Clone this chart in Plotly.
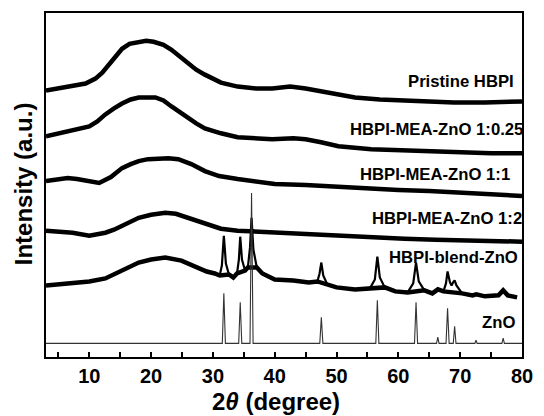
import plotly.graph_objects as go

# ---------------- data ----------------
pristine_x = [3, 5, 7, 9.4, 11, 12.1, 13.7, 15.3, 16.5, 18, 19.2, 20.4, 22, 23.3, 24.7, 26, 27.3, 28.7,
              31.3, 34, 37, 39.6, 42.5, 45, 47.6, 50, 53, 57, 61, 65, 69, 74, 80]
pristine_y = [268, 270, 272, 275, 280, 286, 298, 310, 315, 317, 318, 317, 314, 309, 302, 295, 289, 284,
              276, 272, 270, 270, 272, 270, 267, 264, 261, 259, 258, 257, 256, 256, 257]

r025_x = [3, 5, 7.3, 10, 11.3, 12.6, 14, 15.3, 16.7, 18, 20.7, 22, 23.3, 24.7, 26, 27.3, 28.7, 31.3,
          34, 37, 39.6, 43, 45, 47.5, 50.3, 55.6, 60, 64, 70, 75, 80]
r025_y = [222, 225, 229, 232, 237, 244, 250, 255, 259, 261, 261, 258, 252, 246, 240, 235, 230, 225,
          221, 220, 219, 220, 219, 216, 212, 209, 208, 207, 206, 205, 205]

r11_x = [3, 4.5, 6.5, 8, 9.5, 11.6, 13.5, 15.3, 16.7, 18, 19.5, 21.2, 22.8, 24.4, 26.5, 28.7, 31, 34,
         37, 40, 45, 50, 55, 60, 65, 70, 75, 80]
r11_y = [177, 178, 180, 179, 177, 175, 181, 190, 194, 197, 199, 200, 200, 199, 194, 187, 182, 179,
         176, 174, 173, 171, 170, 168, 167, 165, 164, 162]

r12_x = [3, 5, 7.3, 10, 12.6, 14, 15.3, 16.7, 18, 20, 22.3, 24, 26, 27.4, 28.7, 31.3, 34, 37, 40.4,
         45, 50.3, 55, 61, 66, 72, 78, 80]
r12_y = [127, 126, 125, 122, 125, 128, 132, 136, 140, 143, 145, 144, 140, 137, 134, 129, 127, 126, 125,
         124, 122, 121, 119, 118, 117, 116, 116]

# HBPI-blend-ZnO: broad amorphous background and the crystalline peaks on top of it
blend_base_x = [3, 5, 7.3, 10, 12.6, 14, 15.3, 16.7, 18, 20, 22.3, 24.9, 26.3, 27.6, 29, 30.3, 31.1,
                32.6, 33.3, 33.9, 35.2, 35.65, 37.1, 38, 40, 43, 45.5, 46.9, 48.5, 50, 53, 55.4,
                57.8, 59.5, 61.5, 64.2, 65.5, 66.4, 67.3, 70.3, 72, 72.6, 74, 76.2, 76.95, 77.7, 79.2]
blend_base_y = [72, 73, 74, 76, 79, 83, 87, 91, 95, 98, 100, 97, 93, 89, 86, 84, 82,
                83, 80, 84, 87, 90, 90, 84, 78, 77, 75, 76, 73, 70, 68, 69,
                70, 66, 65, 67, 64, 68, 66, 64, 62, 63, 61, 62, 67, 62, 60]
blend_peak_x = [31.45, 31.77, 32.1, 34.2, 34.42, 34.7, 36.0, 36.25, 36.55, 47.25, 47.54, 47.85,
                56.2, 56.6, 57.0, 62.4, 62.86, 63.3, 67.7, 67.96, 68.35, 68.6, 68.85, 69.1, 69.4]
blend_peak_y = [92, 122, 94, 98, 121, 98, 110, 140, 108, 84, 95, 82,
                78, 101, 80, 74, 95, 76, 74, 86, 75, 72, 75, 77, 72]

zno_x = [3, 31.52, 31.77, 32.02, 34.17, 34.42, 34.67, 36.0, 36.25, 36.5, 47.29, 47.54, 47.79,
         56.35, 56.6, 56.85, 62.61, 62.86, 63.11, 66.18, 66.38, 66.58, 67.71, 67.96, 68.21,
         68.88, 69.1, 69.32, 72.38, 72.56, 72.74, 76.75, 76.95, 77.15, 80]
zno_y = [13.7, 13.7, 64, 13.7, 13.7, 55, 13.7, 13.7, 165, 13.7, 13.7, 40, 13.7,
         13.7, 57, 13.7, 13.7, 55, 13.7, 13.7, 20, 13.7, 13.7, 49, 13.7,
         13.7, 31, 13.7, 13.7, 17, 13.7, 13.7, 19, 13.7, 13.7]

labels = ["Pristine HBPI", "HBPI-MEA-ZnO 1:0.25", "HBPI-MEA-ZnO 1:1",
          "HBPI-MEA-ZnO 1:2", "HBPI-blend-ZnO", "ZnO"]

# ---------------- figure ----------------
FONT = "Liberation Sans, Arial, sans-serif"
fig = go.Figure()
for xs, ys in [(pristine_x, pristine_y), (r025_x, r025_y), (r11_x, r11_y),
               (r12_x, r12_y), (blend_base_x, blend_base_y)]:
    fig.add_trace(go.Scatter(x=xs, y=ys, mode="lines",
                             line=dict(color="black", width=4.5), showlegend=False))

# thin line through background + peaks of the blend pattern
blend_all = sorted(zip(blend_base_x + blend_peak_x, blend_base_y + blend_peak_y))
fig.add_trace(go.Scatter(x=[p[0] for p in blend_all], y=[p[1] for p in blend_all], mode="lines",
                         line=dict(color="black", width=2.2), showlegend=False))

fig.add_trace(go.Scatter(x=zno_x, y=zno_y, mode="lines",
                         line=dict(color="#333333", width=1.1), showlegend=False))

# label placement (pixel left edge, pixel centre y) -> paper coords
L, R, T, B = 46, 527, 11, 357
label_pos = [(410, 80), (351, 128), (361, 173), (373, 218), (391, 257), (485, 322)]
for txt, (px, py) in zip(labels, label_pos):
    fig.add_annotation(x=(px - L) / (R - L), y=(B - py) / (B - T), xref="paper", yref="paper",
                       text="<b>%s</b>" % txt, showarrow=False, xanchor="left", yanchor="middle",
                       font=dict(family=FONT, size=16.7, color="black"))

# axis titles
fig.add_annotation(x=(278 - L) / (R - L), y=(B - 416) / (B - T), xref="paper", yref="paper",
                   text="<b>2<i>θ</i> (degree)</b>", showarrow=False, xanchor="center",
                   yanchor="bottom", borderpad=0, font=dict(family=FONT, size=24, color="black"))
fig.add_annotation(x=(23 - L) / (R - L), y=(B - 183) / (B - T), xref="paper", yref="paper",
                   text="<b>Intensity (a.u.)</b>", showarrow=False, textangle=-90,
                   xanchor="center", yanchor="middle", font=dict(family=FONT, size=24, color="black"))

fig.update_layout(
    width=544, height=416,
    margin=dict(l=L, r=544 - R, t=T, b=416 - B),
    paper_bgcolor="white", plot_bgcolor="white",
    font=dict(family=FONT, color="black"),
)
fig.update_xaxes(
    range=[3, 80], showgrid=False, zeroline=False,
    showline=True, mirror=True, linecolor="black", linewidth=2,
    ticks="inside", ticklen=5, tickwidth=1.5, tickcolor="black",
    tick0=0, dtick=10,
    minor=dict(ticks="inside", ticklen=5, tickwidth=1.5, tickcolor="black", tick0=0, dtick=5),
    tickfont=dict(family=FONT, size=20, color="black"),
    tickprefix="<b>", ticksuffix="</b>",
)
fig.update_yaxes(
    range=[0, B - T], showgrid=False, zeroline=False,
    showline=True, mirror=True, linecolor="black", linewidth=2,
    showticklabels=False, ticks="",
)

fig.write_html("out.html")
